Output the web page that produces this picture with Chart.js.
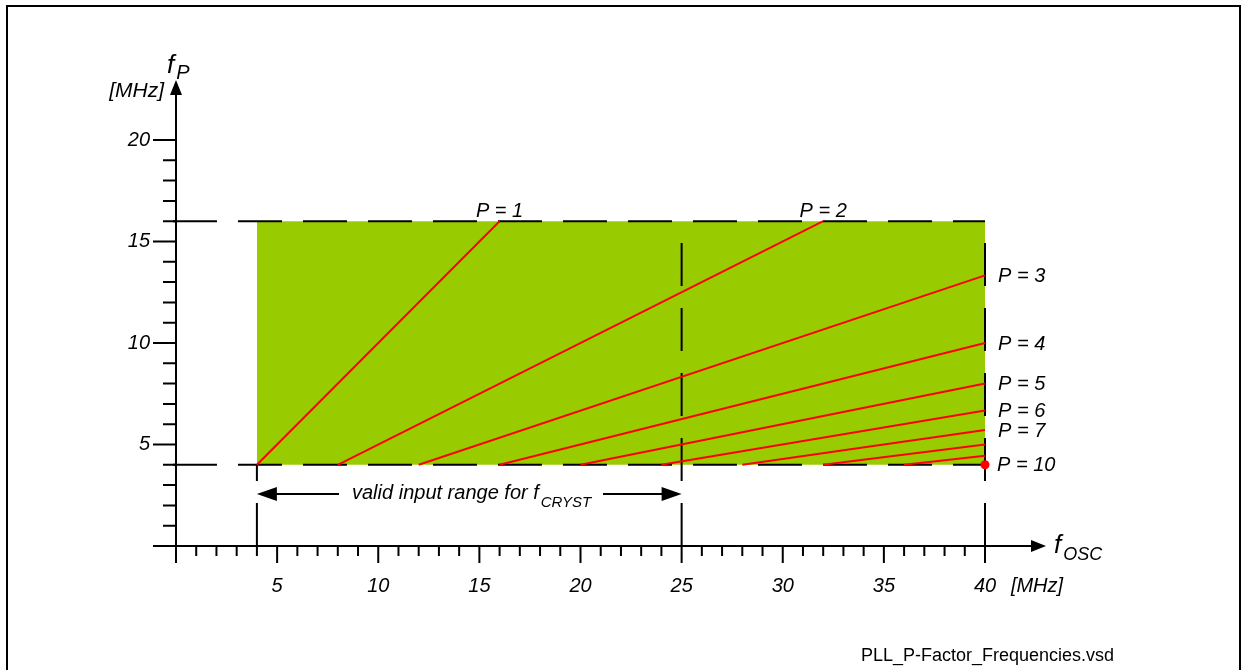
<!DOCTYPE html>
<html>
<head>
<meta charset="utf-8">
<script src="https://cdn.jsdelivr.net/npm/chart.js@4.4.1/dist/chart.umd.min.js"></script>
<style>
body{margin:0;background:#fff;}
#wrap{width:1241px;height:670px;position:relative;}
</style>
</head>
<body>
<div id="wrap"><canvas id="pll_chart"></canvas></div>
<script>
// P lines: f_P = f_OSC / P, each from f_P = 4 MHz up to 16 MHz or f_OSC = 40 MHz
let pNames = ['P = 1','P = 2','P = 3','P = 4','P = 5','P = 6','P = 7','','',''];
let lineStartX = [4,8,12,16,20,24,28,32,36];
let lineStartY = [4,4,4,4,4,4,4,4,4];
let lineEndX = [16,32,40,40,40,40,40,40,40];
let lineEndY = [16,16,13.33,10,8,6.67,5.71,5,4.44];
let p10Point = {x:40, y:4, name:'P = 10'};

// valid area and limits (MHz)
let oscRange = [4,40];
let pRange = [4,16];
let crystMax = 25;
let dashLeft = -0.15;

let xTicks = [0,1,2,3,4,5,6,7,8,9,10,11,12,13,14,15,16,17,18,19,20,21,22,23,24,25,26,27,28,29,30,31,32,33,34,35,36,37,38,39,40];
let xTickLabels = ['5','10','15','20','25','30','35','40'];
let yTicks = [1,2,3,4,5,6,7,8,9,10,11,12,13,14,15,16,17,18,19,20];
let yTickLabels = ['5','10','15','20'];

const RED = '#ff0000';
const GREEN = '#99cc00';
const IT = (s) => 'italic ' + s + 'px "Liberation Sans", Arial, sans-serif';

let datasets = [];
// red P lines
for (let i = 0; i < lineStartX.length; i++) {
    datasets.push({
        data: [{x:lineStartX[i], y:lineStartY[i]}, {x:lineEndX[i], y:lineEndY[i]}],
        showLine: true, borderColor: RED, borderWidth: 2, pointRadius: 0,
        clip: false, order: 1
    });
}
// P = 10 is a single point
datasets.push({
    data: [{x:p10Point.x, y:p10Point.y}],
    pointRadius: 4.5, pointBackgroundColor: RED, pointBorderWidth: 0,
    clip: false, order: 0
});
// dashed limits
let dashes = [
    [{x:dashLeft, y:pRange[1]}, {x:oscRange[1], y:pRange[1]}],
    [{x:dashLeft, y:pRange[0]}, {x:oscRange[1], y:pRange[0]}],
    [{x:oscRange[0], y:0}, {x:oscRange[0], y:pRange[0]}],
    [{x:crystMax, y:0}, {x:crystMax, y:pRange[1]}],
    [{x:oscRange[1], y:0}, {x:oscRange[1], y:pRange[1]}]
];
dashes.forEach((d, i) => {
    datasets.push({
        data: d, showLine: true, borderColor: '#000', borderWidth: 2,
        borderDash: i < 2 ? [44,21] : [43,22], borderCapStyle: 'butt',
        pointRadius: 0, clip: false, order: 2
    });
});
// green valid area
datasets.push({
    data: [{x:oscRange[0], y:pRange[1]}, {x:oscRange[1], y:pRange[1]}],
    showLine: true, borderWidth: 0, pointRadius: 0,
    backgroundColor: GREEN, fill: {value: pRange[0]}, clip: false, order: 3
});

function arrowHead(ctx, x, y, dir, len, half) {
    ctx.beginPath();
    if (dir == 'up') { ctx.moveTo(x, y); ctx.lineTo(x - half, y + len); ctx.lineTo(x + half, y + len); }
    if (dir == 'right') { ctx.moveTo(x, y); ctx.lineTo(x - len, y - half); ctx.lineTo(x - len, y + half); }
    if (dir == 'left') { ctx.moveTo(x, y); ctx.lineTo(x + len, y - half); ctx.lineTo(x + len, y + half); }
    ctx.closePath();
    ctx.fill();
}

function subText(ctx, main, sub, x, y, fMain, fSub, dy) {
    ctx.textAlign = 'left';
    ctx.textBaseline = 'alphabetic';
    ctx.font = fMain;
    ctx.fillText(main, x, y);
    let w = ctx.measureText(main).width;
    ctx.font = fSub;
    ctx.fillText(sub, x + w + 2, y + dy);
}

const extras = {
    id: 'extras',
    afterDraw(chart) {
        const ctx = chart.ctx;
        const px = v => chart.scales.x.getPixelForValue(v);
        const py = v => chart.scales.y.getPixelForValue(v);
        const x0 = px(0), y0 = py(0);
        ctx.save();
        ctx.strokeStyle = '#000';
        ctx.fillStyle = '#000';
        ctx.lineWidth = 2;

        // frame
        ctx.beginPath();
        ctx.moveTo(7, 670); ctx.lineTo(7, 6); ctx.lineTo(1240, 6); ctx.lineTo(1240, 670);
        ctx.stroke();

        // axes
        ctx.beginPath();
        ctx.moveTo(x0 - 23, y0); ctx.lineTo(1035, y0);
        ctx.moveTo(x0, y0 + 17); ctx.lineTo(x0, 92);
        ctx.stroke();
        arrowHead(ctx, 1046, y0, 'right', 15, 6);
        arrowHead(ctx, x0, 80, 'up', 15, 6);

        // ticks
        ctx.beginPath();
        xTicks.forEach(v => {
            let len = v % 5 == 0 ? 17 : 10;
            ctx.moveTo(px(v), y0); ctx.lineTo(px(v), y0 + len);
        });
        yTicks.forEach(v => {
            let len = v % 5 == 0 ? 23 : 13;
            ctx.moveTo(x0, py(v)); ctx.lineTo(x0 - len, py(v));
        });
        ctx.stroke();

        // tick labels
        ctx.font = IT(20);
        ctx.textAlign = 'center';
        ctx.textBaseline = 'middle';
        xTickLabels.forEach(t => ctx.fillText(t, px(+t), 586));
        ctx.fillText('[MHz]', 1037, 586);
        ctx.textAlign = 'right';
        yTickLabels.forEach(t => ctx.fillText(t, 150, py(+t)));
        ctx.font = IT(21);
        ctx.fillText('[MHz]', 164, 91);

        // axis titles
        subText(ctx, 'f', 'P', 167, 73, IT(26), IT(20), 6);
        subText(ctx, 'f', 'OSC', 1054, 553, IT(26), IT(18), 7);

        // P labels
        ctx.font = IT(20);
        for (let i = 0; i < lineEndX.length; i++) {
            if (!pNames[i]) continue;
            if (lineEndY[i] == pRange[1]) {
                ctx.textAlign = 'center';
                ctx.textBaseline = 'alphabetic';
                ctx.fillText(pNames[i], px(lineEndX[i]), py(lineEndY[i]) - 4);
            } else {
                ctx.textAlign = 'left';
                ctx.textBaseline = 'middle';
                ctx.fillText(pNames[i], px(lineEndX[i]) + 13, py(lineEndY[i]) + 1);
            }
        }
        ctx.textAlign = 'left';
        ctx.textBaseline = 'middle';
        ctx.fillText(p10Point.name, px(p10Point.x) + 12, py(p10Point.y) + 1);

        // valid input range arrow
        let ay = 494;
        ctx.beginPath();
        ctx.moveTo(px(oscRange[0]) + 18, ay); ctx.lineTo(339, ay);
        ctx.moveTo(603, ay); ctx.lineTo(px(crystMax) - 18, ay);
        ctx.stroke();
        arrowHead(ctx, px(oscRange[0]), ay, 'left', 20, 7);
        arrowHead(ctx, px(crystMax), ay, 'right', 20, 7);
        subText(ctx, 'valid input range for f', 'CRYST', 352, 499, IT(20), IT(15), 8);

        // file name
        ctx.font = '18px "Liberation Sans", Arial, sans-serif';
        ctx.textAlign = 'left';
        ctx.textBaseline = 'alphabetic';
        ctx.fillText('PLL_P-Factor_Frequencies.vsd', 861, 661);
        ctx.restore();
    }
};

new Chart('pll_chart', {
    type: 'scatter',
    data: { datasets: datasets },
    options: {
        responsive: true,
        maintainAspectRatio: false,
        animation: false,
        layout: { padding: { left: 176, right: 256, top: 140, bottom: 124 } },
        scales: {
            x: { type: 'linear', min: 0, max: 40, display: false },
            y: { type: 'linear', min: 0, max: 20, display: false }
        },
        plugins: { legend: { display: false }, tooltip: { enabled: false } }
    },
    plugins: [extras]
});
</script>
</body>
</html>
